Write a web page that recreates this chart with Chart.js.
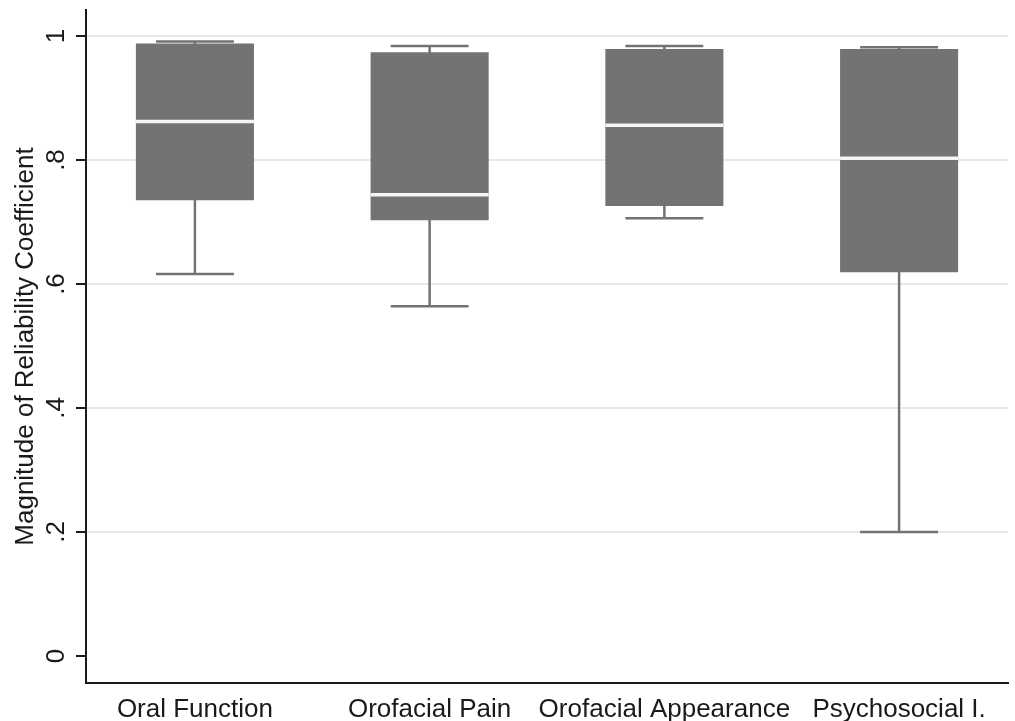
<!DOCTYPE html>
<html>
<head>
<meta charset="utf-8">
<script src="https://cdn.jsdelivr.net/npm/chart.js@4/dist/chart.umd.min.js"></script>
<style>
  html, body { margin: 0; padding: 0; background: #fff; }
  #wrap { width: 1015px; height: 721px; position: relative; }
</style>
</head>
<body>
<div id="wrap"><canvas id="boxChart"></canvas></div>
<script>
// box plot data
const categories = ['Oral Function', 'Orofacial Pain', 'Orofacial Appearance', 'Psychosocial I.'];
const lowerAdj = [0.616, 0.564, 0.706, 0.200];
const q1 = [0.735, 0.703, 0.726, 0.619];
const median = [0.862, 0.744, 0.856, 0.803];
const q3 = [0.988, 0.974, 0.979, 0.979];
const upperAdj = [0.991, 0.984, 0.984, 0.982];

const yTicks = [0, 0.2, 0.4, 0.6, 0.8, 1];
const yTickLabels = ['0', '.2', '.4', '.6', '.8', '1'];
const yTitle = 'Magnitude of Reliability Coefficient';

const BOX = '#737373';
const INK = '#1a1a1a';
const FONT = '26px "Liberation Sans", Arial, sans-serif';

const boxPlugin = {
    id: 'boxParts',
    beforeDatasetsDraw(chart) {
        // whiskers and caps, drawn under the boxes
        const ctx = chart.ctx;
        const y = chart.scales.y;
        const meta = chart.getDatasetMeta(0);
        ctx.save();
        ctx.strokeStyle = BOX;
        ctx.lineWidth = 2.5;
        meta.data.forEach((bar, i) => {
            const half = bar.width * 0.33;
            const yLo = y.getPixelForValue(lowerAdj[i]);
            const yHi = y.getPixelForValue(upperAdj[i]);
            ctx.beginPath();
            ctx.moveTo(bar.x, yLo);
            ctx.lineTo(bar.x, yHi);
            ctx.moveTo(bar.x - half, yLo);
            ctx.lineTo(bar.x + half, yLo);
            ctx.moveTo(bar.x - half, yHi);
            ctx.lineTo(bar.x + half, yHi);
            ctx.stroke();
        });
        ctx.restore();
    },
    afterDatasetsDraw(chart) {
        // median lines
        const ctx = chart.ctx;
        const y = chart.scales.y;
        const meta = chart.getDatasetMeta(0);
        ctx.save();
        ctx.strokeStyle = '#f4f4f4';
        ctx.lineWidth = 3.5;
        meta.data.forEach((bar, i) => {
            const ym = y.getPixelForValue(median[i]);
            ctx.beginPath();
            ctx.moveTo(bar.x - bar.width / 2, ym);
            ctx.lineTo(bar.x + bar.width / 2, ym);
            ctx.stroke();
        });
        ctx.restore();
    },
    afterDraw(chart) {
        // vertical y tick labels and axis title
        const ctx = chart.ctx;
        const y = chart.scales.y;
        const area = chart.chartArea;
        ctx.save();
        ctx.fillStyle = INK;
        ctx.font = FONT;
        ctx.textAlign = 'center';
        ctx.textBaseline = 'alphabetic';
        yTicks.forEach((v, i) => {
            ctx.save();
            ctx.translate(64, y.getPixelForValue(v));
            ctx.rotate(-Math.PI / 2);
            ctx.fillText(yTickLabels[i], 0, 0);
            ctx.restore();
        });
        ctx.translate(33, (area.top + area.bottom) / 2);
        ctx.rotate(-Math.PI / 2);
        ctx.fillText(yTitle, 0, 0);
        ctx.restore();
    }
};

const ctx = document.getElementById('boxChart').getContext('2d');

new Chart(ctx, {
    type: 'bar',
    data: {
        datasets: [{
            data: categories.map((c, i) => ({ x: i + 1, y: [q1[i], q3[i]] })),
            backgroundColor: BOX,
            borderWidth: 0,
            categoryPercentage: 1,
            barPercentage: 0.503
        }]
    },
    options: {
        responsive: true,
        maintainAspectRatio: false,
        animation: false,
        layout: { padding: { left: 76, right: 7, top: 10, bottom: -8 } },
        plugins: {
            legend: { display: false },
            tooltip: { enabled: false }
        },
        scales: {
            x: {
                type: 'linear',
                offset: false,
                min: 0.536,
                max: 4.464,
                afterBuildTicks: scale => {
                    scale.ticks = categories.map((c, i) => ({ value: i + 1 }));
                },
                grid: { display: false },
                border: { display: true, color: INK, width: 2 },
                ticks: {
                    color: INK,
                    padding: 6,
                    maxRotation: 0,
                    autoSkip: false,
                    font: { family: '"Liberation Sans", Arial, sans-serif', size: 26, lineHeight: 1 },
                    callback: v => categories[Math.round(v) - 1] || ''
                }
            },
            y: {
                min: -0.0436,
                max: 1.042,
                afterBuildTicks: scale => {
                    scale.ticks = yTicks.map(v => ({ value: v }));
                },
                grid: {
                    color: c => (c.tick && c.tick.value === 0) ? 'rgba(0,0,0,0)' : '#e8e8e8',
                    lineWidth: 2,
                    drawTicks: true,
                    tickLength: 10,
                    tickColor: INK,
                    tickWidth: 2
                },
                border: { display: true, color: INK, width: 2 },
                ticks: { display: false }
            }
        }
    },
    plugins: [boxPlugin]
});
</script>
</body>
</html>
